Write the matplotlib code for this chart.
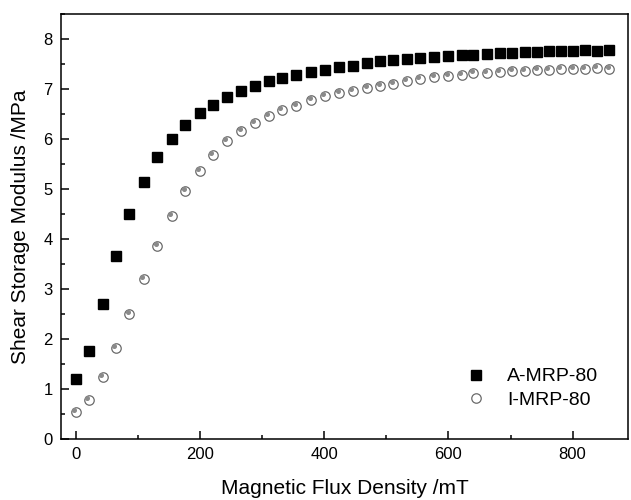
import matplotlib
matplotlib.use("Agg")
import matplotlib.pyplot as plt
import matplotlib.transforms as mtransforms
from matplotlib.ticker import MultipleLocator

plt.rcParams['font.family'] = ['Liberation Sans', 'DejaVu Sans']

flux = [0, 21, 43, 64, 86, 109, 131, 154, 176, 199, 220, 243, 266, 288, 311,
        332, 355, 379, 401, 424, 446, 469, 490, 511, 533, 554, 577, 600, 621,
        640, 662, 683, 703, 723, 743, 762, 781, 801, 820, 839, 859]
a_mrp = [1.21, 1.76, 2.70, 3.66, 4.50, 5.14, 5.64, 6.01, 6.29, 6.52, 6.69,
         6.84, 6.96, 7.06, 7.16, 7.22, 7.29, 7.34, 7.39, 7.44, 7.47, 7.52,
         7.56, 7.58, 7.60, 7.62, 7.64, 7.66, 7.68, 7.69, 7.70, 7.72, 7.73,
         7.74, 7.75, 7.76, 7.76, 7.77, 7.78, 7.76, 7.78]
i_mrp = [0.54, 0.78, 1.25, 1.82, 2.50, 3.20, 3.86, 4.46, 4.96, 5.37, 5.69,
         5.96, 6.16, 6.32, 6.47, 6.59, 6.67, 6.78, 6.86, 6.92, 6.97, 7.02,
         7.06, 7.11, 7.16, 7.20, 7.24, 7.26, 7.29, 7.32, 7.32, 7.34, 7.36,
         7.37, 7.38, 7.39, 7.40, 7.40, 7.41, 7.42, 7.41]
labels = ["A-MRP-80", "I-MRP-80"]

fig = plt.figure(figsize=(6.31, 5.0), dpi=100)
ax = fig.add_axes([0.097, 0.122, 0.898, 0.850])

ax.plot(flux, a_mrp, linestyle='none', marker='s', markersize=6.5,
        color='black', label=labels[0])
ax.plot(flux, i_mrp, linestyle='none', marker='o', markersize=6.8,
        markerfacecolor='white', markeredgecolor='#6a6a6a', markeredgewidth=0.9,
        label=labels[1])
offset = mtransforms.ScaledTranslation(-1.2 / 72, 1.2 / 72, fig.dpi_scale_trans)
ax.plot(flux, i_mrp, linestyle='none', marker='o', markersize=2.6,
        markerfacecolor='#8a8a8a', markeredgecolor='#8a8a8a',
        transform=ax.transData + offset)

ax.set_xlim(-24, 889)
ax.set_ylim(0, 8.5)
ax.xaxis.set_major_locator(MultipleLocator(200))
ax.xaxis.set_minor_locator(MultipleLocator(100))
ax.yaxis.set_major_locator(MultipleLocator(1))
ax.yaxis.set_minor_locator(MultipleLocator(0.5))
ax.tick_params(which='both', direction='in', top=False, right=False,
               labelsize=12, width=1.1)
ax.tick_params(which='major', length=6, pad=6)
ax.tick_params(which='minor', length=3)
for s in ax.spines.values():
    s.set_linewidth(1.1)

ax.set_xlabel("Magnetic Flux Density /mT", fontsize=15, labelpad=12)
ax.set_ylabel("Shear Storage Modulus /MPa", fontsize=15, labelpad=10)

leg = ax.legend(loc='lower right', bbox_to_anchor=(0.978, 0.03), frameon=False,
                fontsize=14, handletextpad=1.0, labelspacing=0.3,
                handlelength=1.2)

fig.savefig("out.png", dpi=100)
